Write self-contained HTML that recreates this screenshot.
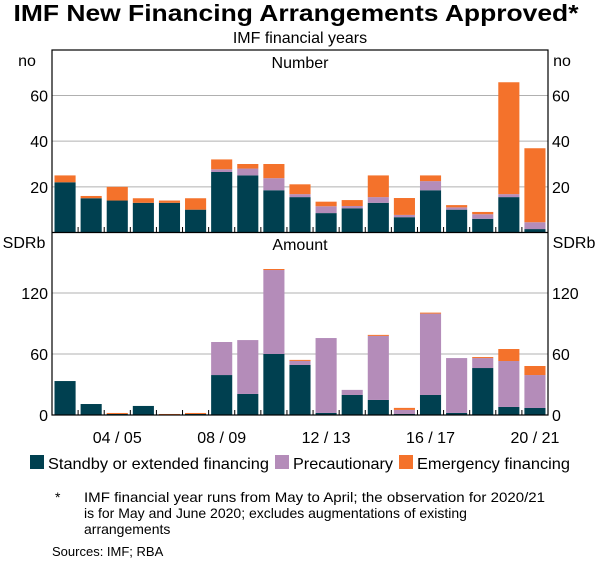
<!DOCTYPE html>
<html><head><meta charset="utf-8"><style>
body{margin:0;background:#fff;}
svg text{font-family:"Liberation Sans",Arial,sans-serif;fill:#000;}
</style></head><body>
<svg id="c" width="600" height="562" xmlns="http://www.w3.org/2000/svg">
<text x="296" y="21" font-size="23.5" font-weight="bold" text-anchor="middle" textLength="565" lengthAdjust="spacingAndGlyphs">IMF New Financing Arrangements Approved*</text>
<text x="300" y="43" font-size="16" text-anchor="middle">IMF financial years</text>
<text x="300" y="68" font-size="16" text-anchor="middle">Number</text>
<text x="300" y="250" font-size="16" text-anchor="middle">Amount</text>
<text x="27" y="66" font-size="16" text-anchor="middle">no</text>
<text x="562" y="66" font-size="16" text-anchor="middle">no</text>
<text x="24" y="248" font-size="16" text-anchor="middle">SDRb</text>
<text x="574" y="248" font-size="16" text-anchor="middle">SDRb</text>
<g id="g"></g>
<g>
<rect x="30" y="455" width="14" height="14" fill="#004050"/>
<text x="48" y="469" font-size="16" textLength="221" lengthAdjust="spacingAndGlyphs">Standby or extended financing</text>
<rect x="275" y="455" width="14" height="14" fill="#b48cb9"/>
<text x="293" y="469" font-size="16" textLength="100" lengthAdjust="spacingAndGlyphs">Precautionary</text>
<rect x="399" y="455" width="14" height="14" fill="#f4722b"/>
<text x="417" y="469" font-size="16" textLength="153" lengthAdjust="spacingAndGlyphs">Emergency financing</text>
</g>
<g font-size="14">
<text x="55" y="502">*</text>
<text x="84" y="502" textLength="461" lengthAdjust="spacingAndGlyphs">IMF financial year runs from May to April; the observation for 2020/21</text>
<text x="84" y="518">is for May and June 2020; excludes augmentations of existing</text>
<text x="84" y="534">arrangements</text>
<text x="52" y="556" font-size="13">Sources: IMF; RBA</text>
</g>
</svg>
<script>
const years=["02/03","03/04","04/05","05/06","06/07","07/08","08/09","09/10","10/11","11/12","12/13","13/14","14/15","15/16","16/17","17/18","18/19","19/20","20/21"];
const numStandby=[22,15,14,13,13,10,26.5,25,18.5,15.5,8.5,10.6,13,6.7,18.5,10,6,15.5,1.5];
const numPrecaut=[0,0,0,0,0,0,1.2,3,5.3,1.3,3,1,2.5,1,4,1,2,1.3,3];
const numEmerg=[3,1,6,2,1,5,4.3,2,6.2,4.3,2,2.6,9.5,7.4,2.5,1,1,49,32.4];
const amtStandby=[33.4,10.8,1,8.9,0,1,39.3,20.7,60,49.2,2,19.7,14.8,1,19.7,2,46.2,7.9,6.9];
const amtPrecaut=[0,0,0,0,0,0,32.5,53,82.6,4,73.7,5,63,4,80,54,9.8,45.2,32.4];
const amtEmerg=[0,0,1,0,1,1,0,0,1,1,0,0,1,2,1,0,1,11.8,8.9];
const numTicks=[20,40,60];
const amtTicks=[0,60,120];
const xLabels=["04/05","08/09","12/13","16/17","20/21"];
const colors=["#004050","#b48cb9","#f4722b"];
const NS="http://www.w3.org/2000/svg";
const g=document.getElementById("g");
const L=52,R=548;
const step=(R-L)/years.length;
const x=i=>L+i*step;
function yNum(v){return 232.5-v*(137/60);}
function yAmt(v){return 415-v*(122/120);}
function mk(t,a){const e=document.createElementNS(NS,t);for(const k in a)e.setAttribute(k,a[k]);g.appendChild(e);return e;}
numTicks.forEach(t=>{
 const l=mk("line",{x1:L,x2:R,y1:yNum(t),y2:yNum(t),stroke:"#b0b0b0","stroke-width":1});
 
 
 const a=mk("text",{x:48,y:yNum(t)+6,"font-size":16,"text-anchor":"end"});a.textContent=t;
 
 
 const b=mk("text",{x:552,y:yNum(t)+6,"font-size":16});b.textContent=t;
 
 
});
amtTicks.forEach(t=>{
 if(t>0){const l=mk("line",{x1:L,x2:R,y1:yAmt(t),y2:yAmt(t),stroke:"#b0b0b0","stroke-width":1});
 
 }
 const a=mk("text",{x:48,y:yAmt(t)+6,"font-size":16,"text-anchor":"end"});a.textContent=t;
 
 
 const b=mk("text",{x:552,y:yAmt(t)+6,"font-size":16});b.textContent=t;
 
 
});
function stack(series,yf,name){
 years.forEach((yr,i)=>{
  let base=0;
  series.forEach((s,k)=>{
   const v=s[i]; if(v<=0)return;
   const y0=yf(base),y1=yf(base+v);
   const r=mk("rect",{x:x(i)+2.5,width:step-5,y:y1,height:y0-y1,fill:colors[k]});
   
   
   base+=v;
  });
 });
}
stack([numStandby,numPrecaut,numEmerg],yNum,'number');
stack([amtStandby,amtPrecaut,amtEmerg],yAmt,'amount');
for(let i=1;i<years.length;i++){
 mk("line",{x1:x(i),x2:x(i),y1:232,y2:227,stroke:"#000"});
 mk("line",{x1:x(i),x2:x(i),y1:415,y2:410,stroke:"#000"});
}
xLabels.forEach(lb=>{
 const i=years.indexOf(lb);
 const t=mk("text",{x:x(i)+step/2,y:443,"font-size":16,"text-anchor":"middle"});
 t.textContent=lb.replace('/',' / ');
 
 
});
const f=mk("rect",{x:L,y:50,width:R-L,height:365,fill:"none",stroke:"#000","stroke-width":1.2});


const d=mk("line",{x1:L,x2:R,y1:232.5,y2:232.5,stroke:"#000","stroke-width":1.2});


</script>
</body></html>
